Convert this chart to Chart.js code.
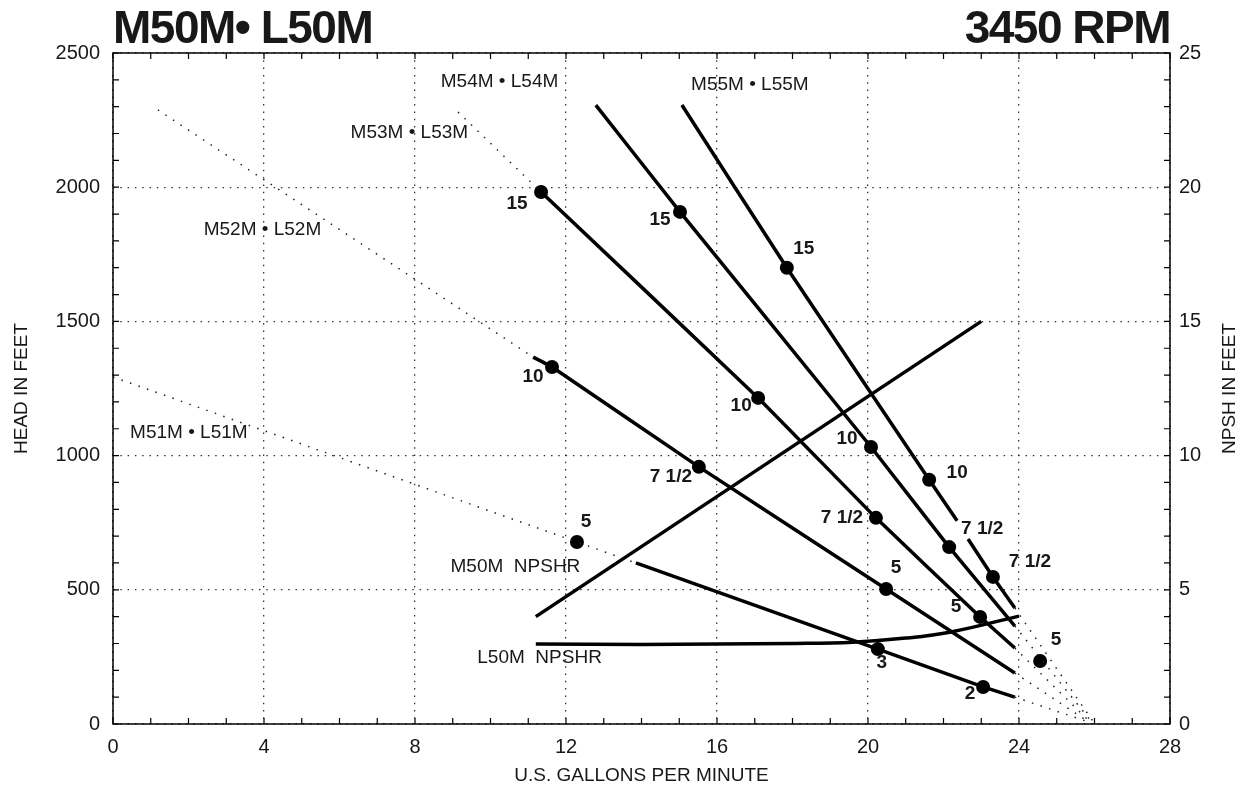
<!DOCTYPE html>
<html lang="en">
<head>
<meta charset="UTF-8">
<title>M50M L50M 3450 RPM</title>
<script src="https://cdn.jsdelivr.net/npm/chart.js"></script>
<style>
  body { margin: 0; background: #fff; }
  #chart { display: block; }
</style>
</head>
<body>
<canvas id="chart" width="1244" height="789"></canvas>
<script>
// pump curves, head (ft) against flow (gpm)
const m55Gpm  = [15.07, 17.85, 21.62, 22.36, 22.5, 22.65, 23.31, 23.89];
const m55Head = [2306, 1700, 910, 757, null, 689, 548, 432];
const m54Gpm  = [12.79, 15.02, 20.08, 22.15, 23.89];
const m54Head = [2306, 1908, 1032, 659, 365];
const m53Gpm  = [11.34, 17.09, 20.21, 22.97, 23.89];
const m53Head = [1982, 1215, 768, 399, 283];
const m52Gpm  = [11.13, 11.63, 15.52, 20.48, 23.89];
const m52Head = [1367, 1330, 958, 503, 190];
const m51Gpm  = [13.85, 20.26, 23.05, 23.89];
const m51Head = [600, 279, 138, 100];

// dotted parts of the curves (outside the usable range)
const dotGpm  = [[9.14, 11.34], [1.19, 11.13], [0, 13.85],
                 [23.89, 25.95], [23.89, 25.9], [23.89, 25.85], [23.89, 25.8], [23.89, 25.75]];
const dotHead = [[2280, 1982], [2288, 1367], [1293, 600],
                 [432, 12], [365, 12], [283, 12], [190, 12], [100, 12]];

// NPSH required (right axis, ft)
const m50NpshGpm = [11.2, 23.0];
const m50Npsh    = [4.0, 15.0];
const l50NpshGpm = [11.2, 14.0, 16.0, 18.0, 19.6, 21.0, 22.2, 24.0];
const l50Npsh    = [2.98, 2.96, 2.98, 3.0, 3.05, 3.2, 3.43, 4.02];

// motor hp points
const hpGpm  = [11.34, 15.02, 17.85, 11.63, 17.09, 20.08, 21.62, 15.52, 20.21, 22.15, 23.31, 20.48, 22.97, 24.56, 12.29, 20.26, 23.05];
const hpHead = [1982, 1908, 1700, 1330, 1215, 1032, 910, 958, 768, 659, 548, 503, 399, 235, 678, 279, 138];
const hpText = ['15', '15', '15', '10', '10', '10', '10', '7 1/2', '7 1/2', '7 1/2', '7 1/2', '5', '5', '5', '5', '3', '2'];

// curve names
const nameText = ['M55M • L55M', 'M54M • L54M', 'M53M • L53M', 'M52M • L52M', 'M51M • L51M', 'M50M  NPSHR', 'L50M  NPSHR'];
const nameGpm  = [16.87, 10.24, 7.85, 3.96, 2.01, 10.66, 11.30];
const nameHead = [2381, 2392, 2202, 1841, 1084, 585, 246];

const xTicks = [0, 4, 8, 12, 16, 20, 24, 28];
const headTicks = [0, 500, 1000, 1500, 2000, 2500];
const npshTicks = [0, 5, 10, 15, 20, 25];

// label offsets from the hp dots, in px
const hpOffset = [[-24, 12], [-20, 8], [17, -19], [-19, 10], [-17, 8], [-24, -8], [28, -7],
                  [-28, 10], [-34, 0], [33, -18], [37, -15], [10, -21], [-24, -10], [16, -21],
                  [9, -20], [4, 14], [-13, 7]];

const FONT = '"Liberation Sans", Arial, Helvetica, sans-serif';
const INK = '#1a1718';

function pts(xs, ys) {
    return xs.map((v, i) => ({ x: v, y: ys[i] }));
}

function solid(xs, ys, axis, tension) {
    return {
        data: pts(xs, ys), yAxisID: axis || 'y',
        borderColor: '#000', borderWidth: 3.5, pointRadius: 0,
        tension: tension || 0, spanGaps: false, borderCapStyle: 'butt'
    };
}

function dotted(xs, ys) {
    return {
        data: pts(xs, ys), yAxisID: 'y',
        borderColor: '#222', borderWidth: 1.5, borderDash: [1.5, 7.5],
        pointRadius: 0, tension: 0
    };
}

var datasets = [];
for (var i = 0; i < dotGpm.length; i++) datasets.push(dotted(dotGpm[i], dotHead[i]));
datasets.push(solid(m55Gpm, m55Head, 'y', 0.1));
datasets.push(solid(m54Gpm, m54Head, 'y', 0.1));
datasets.push(solid(m53Gpm, m53Head, 'y', 0.1));
datasets.push(solid(m52Gpm, m52Head, 'y', 0.1));
datasets.push(solid(m51Gpm, m51Head, 'y', 0));
datasets.push(solid(m50NpshGpm, m50Npsh, 'y2', 0));
datasets.push(solid(l50NpshGpm, l50Npsh, 'y2', 0.4));
datasets.push({
    data: pts(hpGpm, hpHead), yAxisID: 'y', showLine: false,
    pointRadius: 7, pointHoverRadius: 7, pointBackgroundColor: '#000', pointBorderWidth: 0
});
const HP_SET = datasets.length - 1;

// everything printed around and over the plot
const sheetPlugin = {
    id: 'sheet',
    afterDraw(chart) {
        const { ctx, chartArea: a, scales } = chart;
        const sx = scales.x, sy = scales.y, sy2 = scales.y2;
        ctx.save();

        // frame + inward ticks
        ctx.strokeStyle = '#000';
        ctx.lineWidth = 1.5;
        ctx.strokeRect(a.left, a.top, a.right - a.left, a.bottom - a.top);
        ctx.lineWidth = 1.2;
        ctx.beginPath();
        for (let g = 0; g <= 28; g++) {
            const px = sx.getPixelForValue(g);
            ctx.moveTo(px, a.bottom); ctx.lineTo(px, a.bottom - 6);
            ctx.moveTo(px, a.top); ctx.lineTo(px, a.top + 6);
        }
        for (let h = 0; h <= 2500; h += 100) {
            const py = sy.getPixelForValue(h);
            ctx.moveTo(a.left, py); ctx.lineTo(a.left + 6, py);
        }
        for (let n = 0; n <= 25; n++) {
            const py = sy2.getPixelForValue(n);
            ctx.moveTo(a.right, py); ctx.lineTo(a.right - 6, py);
        }
        ctx.stroke();

        ctx.fillStyle = INK;
        // headline
        ctx.font = 'bold 46px ' + FONT;
        ctx.letterSpacing = '-1.5px';
        ctx.textBaseline = 'alphabetic';
        ctx.textAlign = 'left';
        ctx.fillText('M50M• L50M', a.left, 43);
        ctx.textAlign = 'right';
        ctx.fillText('3450 RPM', a.right, 43);
        ctx.letterSpacing = '0px';

        // axis titles
        ctx.font = '19px ' + FONT;
        ctx.textAlign = 'center';
        ctx.textBaseline = 'middle';
        ctx.fillText('U.S. GALLONS PER MINUTE', (a.left + a.right) / 2, 776);
        const midY = (a.top + a.bottom) / 2;
        ctx.save();
        ctx.translate(22, midY); ctx.rotate(-Math.PI / 2);
        ctx.fillText('HEAD IN FEET', 0, 0);
        ctx.restore();
        ctx.save();
        ctx.translate(1230, midY); ctx.rotate(-Math.PI / 2);
        ctx.fillText('NPSH IN FEET', 0, 0);
        ctx.restore();

        // curve names
        for (let i = 0; i < nameText.length; i++) {
            ctx.fillText(nameText[i], sx.getPixelForValue(nameGpm[i]), sy.getPixelForValue(nameHead[i]));
        }

        // hp labels
        ctx.font = 'bold 19px ' + FONT;
        const meta = chart.getDatasetMeta(HP_SET);
        meta.data.forEach((p, i) => {
            ctx.fillText(hpText[i], p.x + hpOffset[i][0], p.y + hpOffset[i][1]);
        });
        ctx.restore();
    }
};

const tickFont = { family: FONT, size: 20 };
const plain = v => String(v);

new Chart(document.getElementById('chart'), {
    type: 'line',
    data: { datasets: datasets },
    plugins: [sheetPlugin],
    options: {
        responsive: false,
        animation: false,
        devicePixelRatio: 1,
        layout: { padding: { top: 53, left: 0, right: 0, bottom: 0 } },
        plugins: { legend: { display: false }, tooltip: { enabled: false } },
        scales: {
            x: {
                type: 'linear', min: 0, max: 28,
                afterBuildTicks: s => { s.ticks = xTicks.map(v => ({ value: v })); },
                afterFit: s => { s.height = 65; },
                ticks: { font: tickFont, color: INK, padding: 11, maxRotation: 0, callback: plain },
                grid: { color: '#333', lineWidth: 1.3, drawTicks: false },
                border: { display: false, dash: [1.5, 5.8] }
            },
            y: {
                type: 'linear', position: 'left', min: 0, max: 2500,
                afterBuildTicks: s => { s.ticks = headTicks.map(v => ({ value: v })); },
                afterFit: s => { s.width = 113; },
                ticks: { font: tickFont, color: INK, padding: 13, callback: plain },
                grid: { color: '#333', lineWidth: 1.3, drawTicks: false },
                border: { display: false, dash: [1.5, 5.8] }
            },
            y2: {
                type: 'linear', position: 'right', min: 0, max: 25,
                afterBuildTicks: s => { s.ticks = npshTicks.map(v => ({ value: v })); },
                afterFit: s => { s.width = 74; },
                ticks: { font: tickFont, color: INK, padding: 9, callback: plain },
                grid: { display: false, drawTicks: false },
                border: { display: false }
            }
        }
    }
});
</script>
</body>
</html>
